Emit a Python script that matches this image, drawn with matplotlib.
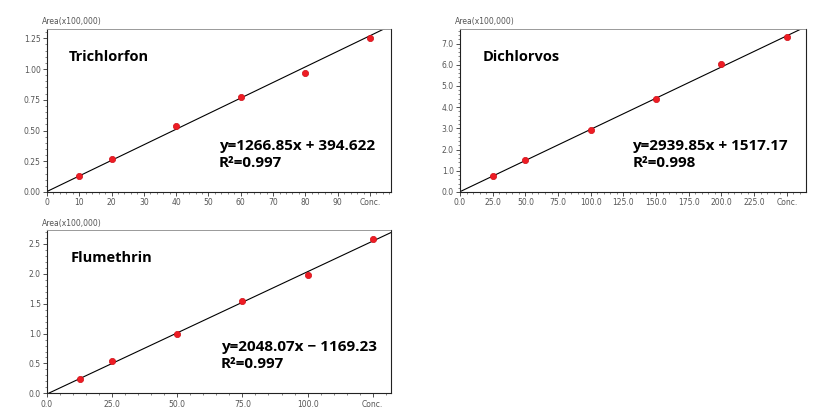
import numpy as np
import matplotlib
matplotlib.use("Agg")
import matplotlib.pyplot as plt
from matplotlib.ticker import MultipleLocator

# ---- data ----
names = ["Trichlorfon", "Dichlorvos", "Flumethrin"]
tri_conc = [10, 20, 40, 60, 80, 100]
tri_area = [0.130, 0.266, 0.539, 0.770, 0.965, 1.255]
dic_conc = [25, 50, 100, 150, 200, 250]
dic_area = [0.76, 1.53, 2.91, 4.38, 6.03, 7.30]
flu_conc = [12.5, 25, 50, 75, 100, 125]
flu_area = [0.234, 0.536, 0.988, 1.54, 1.98, 2.578]
slopes = [1266.85, 2939.85, 2048.07]
intercepts = [394.622, 1517.17, -1169.23]
eq_texts = ["y=1266.85x + 394.622", "y=2939.85x + 1517.17", "y=2048.07x \u2212 1169.23"]
r2_texts = ["R\u00b2=0.997", "R\u00b2=0.998", "R\u00b2=0.997"]
tri_xticks = [0, 10, 20, 30, 40, 50, 60, 70, 80, 90, 100]
tri_xlabels = ["0", "10", "20", "30", "40", "50", "60", "70", "80", "90", "Conc."]
dic_xticks = [0, 25, 50, 75, 100, 125, 150, 175, 200, 225, 250]
dic_xlabels = ["0.0", "25.0", "50.0", "75.0", "100.0", "125.0", "150.0", "175.0", "200.0", "225.0", "Conc."]
flu_xticks = [0, 25, 50, 75, 100, 125]
flu_xlabels = ["0.0", "25.0", "50.0", "75.0", "100.0", "Conc."]
tri_yticks = [0, 0.25, 0.5, 0.75, 1.0, 1.25]
tri_ylabels = ["0.00", "0.25", "0.50", "0.75", "1.00", "1.25"]
dic_yticks = [0, 1, 2, 3, 4, 5, 6, 7]
dic_ylabels = ["0.0", "1.0", "2.0", "3.0", "4.0", "5.0", "6.0", "7.0"]
flu_yticks = [0, 0.5, 1.0, 1.5, 2.0, 2.5]
flu_ylabels = ["0.0", "0.5", "1.0", "1.5", "2.0", "2.5"]

fig = plt.figure(figsize=(8.24, 4.17), dpi=100)

panels = [
    dict(rect=[0.057, 0.5396, 0.4175, 0.391], x=tri_conc, y=tri_area,
         xlim=(0, 106.5), ylim=(0, 1.326), xt=tri_xticks, xl=tri_xlabels,
         yt=tri_yticks, yl=tri_ylabels, xminor=2, yminor=0.05,
         title_pos=(0.064, 0.83), eq_pos=(0.50, 0.284)),
    dict(rect=[0.5583, 0.5396, 0.4195, 0.391], x=dic_conc, y=dic_area,
         xlim=(0, 264.5), ylim=(0, 7.69), xt=dic_xticks, xl=dic_xlabels,
         yt=dic_yticks, yl=dic_ylabels, xminor=5, yminor=0.2,
         title_pos=(0.066, 0.83), eq_pos=(0.498, 0.284)),
    dict(rect=[0.057, 0.0568, 0.4175, 0.3916], x=flu_conc, y=flu_area,
         xlim=(0, 132), ylim=(0, 2.734), xt=flu_xticks, xl=flu_xlabels,
         yt=flu_yticks, yl=flu_ylabels, xminor=5, yminor=0.1,
         title_pos=(0.07, 0.827), eq_pos=(0.506, 0.282)),
]

FONT = ["Open Sans", "DejaVu Sans"]

for i, p in enumerate(panels):
    ax = fig.add_axes(p["rect"])
    xs = np.linspace(p["xlim"][0], p["xlim"][1], 200)
    ys = (slopes[i] * xs + intercepts[i]) / 100000.0
    ax.plot(xs, ys, color="black", lw=0.8, zorder=2)
    ax.plot(p["x"], p["y"], "o", color="#ee1c24", markersize=4.5,
            markeredgecolor="#d01018", markeredgewidth=0.5, zorder=3)
    ax.set_xlim(*p["xlim"])
    ax.set_ylim(*p["ylim"])
    ax.set_xticks(p["xt"])
    ax.set_xticklabels(p["xl"])
    ax.set_yticks(p["yt"])
    ax.set_yticklabels(p["yl"])
    ax.xaxis.set_minor_locator(MultipleLocator(p["xminor"]))
    ax.yaxis.set_minor_locator(MultipleLocator(p["yminor"]))
    ax.tick_params(axis="both", which="major", length=3, width=0.6,
                   labelsize=5.5, labelcolor="#555555", color="#333333", pad=1.5)
    ax.tick_params(axis="both", which="minor", length=1.5, width=0.5, color="#555555")
    for s in ["left", "bottom", "right"]:
        ax.spines[s].set_linewidth(0.8)
        ax.spines[s].set_color("#222222")
    ax.spines["top"].set_color("#999999")
    ax.spines["top"].set_linestyle((0, (1, 1)))
    ax.spines["top"].set_linewidth(0.7)
    ax.text(-0.015, 1.015, "Area(x100,000)", transform=ax.transAxes,
            fontsize=5.5, color="#555555", ha="left", va="bottom")
    ax.text(p["title_pos"][0], p["title_pos"][1], names[i], transform=ax.transAxes,
            fontsize=10.5, fontweight="bold", family=FONT, ha="left", va="center")
    ax.text(p["eq_pos"][0], p["eq_pos"][1], eq_texts[i], transform=ax.transAxes,
            fontsize=11, fontweight="bold", family=FONT, ha="left", va="center")
    ax.text(p["eq_pos"][0], p["eq_pos"][1] - 0.105, r2_texts[i], transform=ax.transAxes,
            fontsize=11, fontweight="bold", family=FONT, ha="left", va="center")

fig.savefig("out.png", dpi=100)
